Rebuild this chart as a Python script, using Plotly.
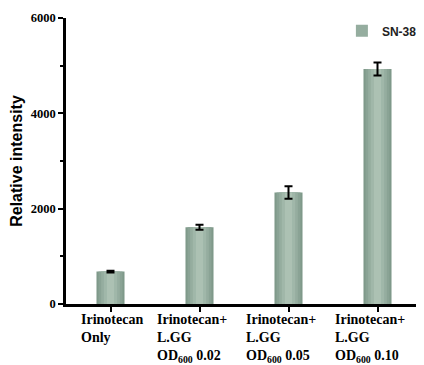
import plotly.graph_objects as go

categories = ["Irinotecan Only", "Irinotecan+ L.GG OD600 0.02",
              "Irinotecan+ L.GG OD600 0.05", "Irinotecan+ L.GG OD600 0.10"]
tick_labels = ["Irinotecan<br>Only",
               "Irinotecan+<br>L.GG<br>OD<sub>600</sub> 0.02",
               "Irinotecan+<br>L.GG<br>OD<sub>600</sub> 0.05",
               "Irinotecan+<br>L.GG<br>OD<sub>600</sub> 0.10"]
sn38 = [680, 1610, 2340, 4930]
sn38_err = [20, 50, 130, 135]
series_name = "SN-38"

fig = go.Figure()
# layered bars of decreasing width give a horizontal shading like the reference
layers = [(0.315, "#7f998a", False), (0.27, "#8aa395", False), (0.21, "#95ad9f", True),
          (0.15, "#a0b7a9", False), (0.08, "#acc1b3", False)]
for i, (w, col, show) in enumerate(layers):
    last = i == len(layers) - 1
    fig.add_trace(go.Bar(
        x=categories, y=sn38, width=w, name=series_name, showlegend=show,
        marker=dict(color=col, line=dict(width=0)),
        error_y=dict(type="data", array=sn38_err, visible=last,
                     color="black", thickness=2, width=4),
    ))

for cat, lab in zip(categories, tick_labels):
    fig.add_annotation(
        x=cat, y=0, xref="x", yref="paper", text=lab, showarrow=False,
        xanchor="center", yanchor="top", align="left", yshift=-6,
        xshift=(-8 if "+" in lab else 1),
        font=dict(family="Liberation Serif", size=14, color="black", weight="bold"),
    )

# page body has an 8px margin, so the figure is drawn 8px right/down
fig.update_layout(
    width=416, height=357,
    margin=dict(l=58, r=2, t=10, b=61),
    paper_bgcolor="white", plot_bgcolor="white",
    barmode="overlay",
    legend=dict(x=0.775, y=0.955, xanchor="left", yanchor="middle",
                bgcolor="rgba(0,0,0,0)", itemwidth=30,
                font=dict(family="Liberation Sans", size=12, color="#222", weight="bold")),
    xaxis=dict(range=[-0.5, 3.5], showticklabels=False, ticks="outside",
               ticklen=5, tickwidth=2, tickcolor="black",
               showline=True, linewidth=2.5, linecolor="black", showgrid=False, zeroline=False),
    yaxis=dict(range=[0, 6000], dtick=2000, ticks="outside", ticklen=5, tickwidth=2,
               tickcolor="black", showline=True, linewidth=2.5, linecolor="black",
               showgrid=False, zeroline=False,
               minor=dict(dtick=1000, ticks="outside", ticklen=3, tickwidth=1.5, tickcolor="black"),
               tickfont=dict(family="Liberation Serif", size=12.5, color="black", weight="bold"),
               title=dict(text="Relative intensity", standoff=6,
                          font=dict(family="Liberation Sans", size=16, color="black", weight="bold"))),
)

fig.write_html("out.html")
